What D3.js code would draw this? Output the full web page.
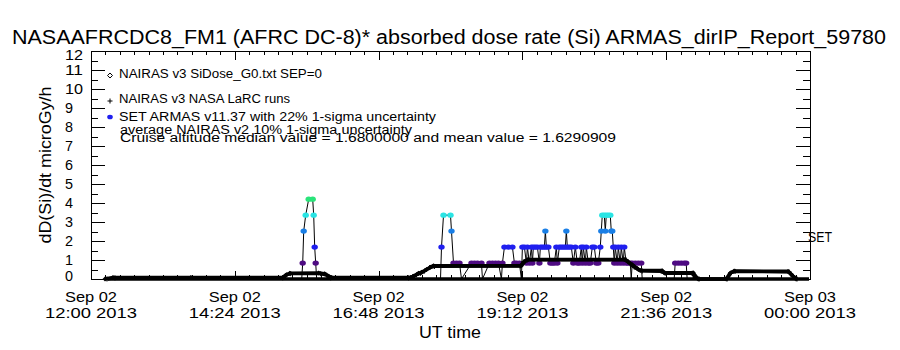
<!DOCTYPE html>
<html><head><meta charset="utf-8">
<script src="https://cdn.jsdelivr.net/npm/d3@7"></script>
<style>
body{margin:0;background:#fff;}
svg{display:block;font-family:"Liberation Sans",Arial,sans-serif;}
</style></head><body>
<svg id="chart" width="900" height="350"></svg>
<script>
// ---------- text ----------
const TITLE = "NASAAFRCDC8_FM1 (AFRC DC-8)* absorbed dose rate (Si) ARMAS_dirIP_Report_59780";
const Y_LABEL = "dD(Si)/dt microGy/h";
const X_LABEL = "UT time";
const SIDE_LABEL = "SET";
const LEGEND_LABELS = ["NAIRAS v3 SiDose_G0.txt SEP=0", "NAIRAS v3 NASA LaRC runs", "SET ARMAS v11.37 with 22% 1-sigma uncertainty"];
const NOTE_LINES = ["average NAIRAS v2 10% 1-sigma uncertainty", "Cruise altitude median value = 1.6800000 and mean value = 1.6290909"];

// ---------- axes ----------
const START = "2013-09-02T12:00:00Z";
const END = "2013-09-03T00:00:00Z";
const X_TICK_MINUTES = [0, 144, 288, 432, 576, 720];   // minutes after START
const Y_TICKS = [0,1,2,3,4,5,6,7,8,9,10,11,12];

// ---------- data (minutes after 12:00 UT, microGy/h) ----------
const NAIRAS_G0 = [
 [14,0],[22,0.08],[100,0.08],[192,0.08],[195,0.2],[199,0.3],[228,0.31],[234,0.28],[238,0.15],[241,0.08],
 [320,0.08],[323,0.15],[328,0.3],[331,0.35],[336,0.5],[340,0.62],[343,0.7],[431,0.7],[435,0.95],[438,1.03],
 [534,1.03],[538,0.9],[542,0.75],[547,0.55],[550,0.45],[572,0.44],[574,0.33],[603,0.33],[606,0.1],[608,0],
 [636,0],[640,0.3],[644,0.42],[698,0.4],[702,0.2],[706,0]
];
const NAIRAS_LARC = [
 [16,0],[24,0.06],[192,0.06],[196,0.22],[200,0.28],[230,0.28],[236,0.2],[240,0.06],[318,0.06],[322,0.12],
 [326,0.22],[330,0.3],[334,0.42],[339,0.6],[344,0.66],[430,0.68],[433,0.9],[437,1.0],[536,1.0],[540,0.8],
 [544,0.62],[548,0.5],[552,0.42],[571,0.4],[575,0.3],[602,0.3],[605,0.08],[609,0],[637,0],[641,0.33],
 [645,0.4],[699,0.38],[703,0.15],[707,0]
];
const ARMAS = [
 [17,0],[211,0],
 [212,0.84],[213,2.52],[215,3.36],[218,4.2],[222,4.2],[223,3.36],[224,1.68],[225,0.84],[226,0],
 [350,0],[351,1.68],[353,3.36],[360,3.36],[361,2.52],[363,0.84],[366,0.84],[369,0.84],[371,0],
 [381,0.84],[384,0.84],[387,0.84],[391,0.84],[392,0],
 [399,0.84],[402,0.84],[405,0.84],[408,0.84],[411,0],[412,0.84],[414,1.68],[418,1.68],[422,1.68],[424,0.84],
 [426,0.84],[429,0.84],[431,0],
 [432,1.68],[434,1.68],[436,0.84],[437,1.68],[439,0.84],[441,1.68],[442,0.84],[443,1.68],[445,1.68],[447,1.68],
 [449,0.84],[450,1.68],[452,1.68],[454,1.68],[455,2.52],[456,1.68],[458,1.68],[460,0.84],[462,0.84],[464,0.84],
 [466,1.68],[467,0.84],[469,1.68],[471,1.68],[473,1.68],[475,1.68],[476,2.52],[477,1.68],[479,1.68],[481,1.68],
 [483,0.84],[485,1.68],[487,0.84],[489,0.84],[491,1.68],[492,0.84],[493,1.68],[495,0.84],[496,1.68],[498,0.84],
 [500,0.84],[502,1.68],[504,1.68],[506,0.84],[508,0.84],[510,1.68],[511,2.52],[512,3.36],[514,3.36],[515,2.52],
 [516,3.36],[518,3.36],[520,3.36],[521,2.52],[522,2.52],[523,1.68],[524,0.84],[525,1.68],[527,0.84],[528,1.68],
 [530,0.84],[531,1.68],[533,0.84],[534,1.68],[536,0.84],[538,0.84],[540,0.84],[541,0],[542,0.84],[545,0.84],
 [548,0.84],[551,0.84],[552,0],
 [584,0],[585,0.84],[588,0.84],[591,0.84],[594,0.84],[596,0.84],[597,0],[719,0]
];
const ARMAS_LEVELS = [0, 0.84, 1.68, 2.52, 3.36, 4.2];
const ARMAS_COLORS = ["#000000", "#4e0b82", "#1f1fef", "#1a7fe6", "#2ae4e4", "#2ae47a"];

// ---------- drawing ----------
const svg = d3.select("#chart");
const t0 = new Date(START);
const toDate = m => new Date(t0.getTime() + m * 60000);
const x = d3.scaleUtc().domain([new Date(START), new Date(END)]).range([91, 810]);
const y = d3.scaleLinear().domain([0, 12]).range([279, 51]);
const color = d3.scaleOrdinal().domain(ARMAS_LEVELS).range(ARMAS_COLORS);
const X0 = x.range()[0], X1 = x.range()[1], Y0 = y.range()[0], Y1 = y.range()[1];

// title
svg.append("text").attr("x", 449).attr("y", 44).attr("text-anchor", "middle")
  .attr("font-size", 20).attr("textLength", 874).attr("lengthAdjust", "spacingAndGlyphs").text(TITLE);

// frame
svg.append("rect").attr("x", X0 + 0.5).attr("y", Y1 + 0.5).attr("width", X1 - X0).attr("height", Y0 - Y1)
  .attr("fill", "none").attr("stroke", "#000").attr("shape-rendering", "crispEdges");

const majorDates = X_TICK_MINUTES.map(toDate);
const minorDates = d3.range(0, 721, 14.4).map(toDate);
const halfTicks = Y_TICKS.slice(0, -1).map(v => v + 0.5);

function clean(g) { g.select(".domain").remove(); g.selectAll("text").remove();
  g.selectAll("line").attr("stroke", "#000").attr("shape-rendering", "crispEdges"); }

svg.append("g").attr("transform", `translate(0,${Y0})`).call(d3.axisBottom(x).tickValues(majorDates).tickSize(-8.5).tickSizeOuter(0)).call(clean);
svg.append("g").attr("transform", `translate(0,${Y0})`).call(d3.axisBottom(x).tickValues(minorDates).tickSize(-4.3).tickSizeOuter(0)).call(clean);
svg.append("g").attr("transform", `translate(0,${Y1})`).call(d3.axisTop(x).tickValues(majorDates).tickSize(-8.5).tickSizeOuter(0)).call(clean);
svg.append("g").attr("transform", `translate(0,${Y1})`).call(d3.axisTop(x).tickValues(minorDates).tickSize(-4.3).tickSizeOuter(0)).call(clean);
svg.append("g").attr("transform", `translate(${X0},0)`).call(d3.axisLeft(y).tickValues(Y_TICKS).tickSize(-14).tickSizeOuter(0)).call(clean);
svg.append("g").attr("transform", `translate(${X0},0)`).call(d3.axisLeft(y).tickValues(halfTicks).tickSize(-7).tickSizeOuter(0)).call(clean);
svg.append("g").attr("transform", `translate(${X1},0)`).call(d3.axisRight(y).tickValues(Y_TICKS).tickSize(-14).tickSizeOuter(0)).call(clean);
svg.append("g").attr("transform", `translate(${X1},0)`).call(d3.axisRight(y).tickValues(halfTicks).tickSize(-7).tickSizeOuter(0)).call(clean);

// y tick labels (left aligned like IDL output)
svg.append("g").selectAll("text").data(Y_TICKS).join("text")
  .attr("x", 65)
  .attr("y", d => y(d) + 5 + (d === 0 ? -3.5 : 0) + (d === 12 ? 3.5 : 0))
  .attr("font-size", 14)
  .attr("textLength", d => String(d).length * 10 - 2).attr("lengthAdjust", "spacingAndGlyphs")
  .text(d => d);

// x tick labels
const fmtDay = d3.utcFormat("%b %d"), fmtTime = d3.utcFormat("%H:%M %Y");
const xl = svg.append("g").selectAll("g").data(majorDates).join("g");
xl.append("text").attr("x", d => x(d)).attr("y", 302).attr("text-anchor", "middle").attr("font-size", 15)
  .attr("textLength", 52).attr("lengthAdjust", "spacingAndGlyphs").text(d => fmtDay(d));
xl.append("text").attr("x", d => x(d)).attr("y", 318).attr("text-anchor", "middle").attr("font-size", 15)
  .attr("textLength", 92).attr("lengthAdjust", "spacingAndGlyphs").text(d => fmtTime(d));

svg.append("text").attr("x", 450).attr("y", 338).attr("text-anchor", "middle").attr("font-size", 16)
  .attr("textLength", 62).attr("lengthAdjust", "spacingAndGlyphs").text(X_LABEL);

svg.append("text").attr("transform", "translate(51,165) rotate(-90)").attr("text-anchor", "middle")
  .attr("font-size", 16).attr("textLength", 157).attr("lengthAdjust", "spacingAndGlyphs").text(Y_LABEL);

svg.append("text").attr("x", 808).attr("y", 242).attr("font-size", 14)
  .attr("textLength", 24).attr("lengthAdjust", "spacingAndGlyphs").text(SIDE_LABEL);

// ---------- data marks ----------
const pts = arr => arr.map(([m, v]) => ({ t: toDate(m), v }));
const armas = pts(ARMAS), g0 = pts(NAIRAS_G0), larc = pts(NAIRAS_LARC);
const line = d3.line().x(d => x(d.t)).y(d => y(d.v));

// dense zero-level ARMAS markers (merge into a thick baseline)
svg.append("line").attr("x1", x(armas[0].t)).attr("x2", x(armas[armas.length - 1].t))
  .attr("y1", y(0)).attr("y2", y(0)).attr("stroke", "#000").attr("stroke-width", 3.5);

svg.append("path").datum(armas).attr("d", line).attr("fill", "none").attr("stroke", "#000").attr("stroke-width", 1);
svg.append("g").selectAll("ellipse").data(armas.filter(d => d.v > 0)).join("ellipse")
  .attr("cx", d => x(d.t)).attr("cy", d => y(d.v)).attr("rx", 3.2).attr("ry", 2.6)
  .attr("fill", d => color(d.v));

svg.append("path").datum(larc).attr("d", line).attr("fill", "none").attr("stroke", "#000")
  .attr("stroke-width", 3.2).attr("stroke-linejoin", "round");
svg.append("path").datum(g0).attr("d", line).attr("fill", "none").attr("stroke", "#000")
  .attr("stroke-width", 3.6).attr("stroke-linejoin", "round");
svg.append("g").selectAll("path").data(g0).join("path")
  .attr("d", d => `M${x(d.t)},${y(d.v) - 2.5}l2.5,2.5l-2.5,2.5l-2.5,-2.5z`).attr("fill", "#000");
svg.append("g").selectAll("path").data(larc).join("path")
  .attr("d", d => `M${x(d.t) - 2.5},${y(d.v)}h5M${x(d.t)},${y(d.v) - 2.5}v5`).attr("stroke", "#000");

// ---------- legend ----------
const LX = 110, TX = 119;
const legendBase = [78, 103, 121];
const legendLen = [203, 171, 317];
svg.append("path").attr("d", `M${LX},${legendBase[0] - 5}l2.5,2.5l-2.5,2.5l-2.5,-2.5z`).attr("fill", "none").attr("stroke", "#000");
svg.append("path").attr("d", `M${LX - 2.5},${legendBase[1] - 2}h5M${LX},${legendBase[1] - 4.5}v5`).attr("stroke", "#000");
svg.append("ellipse").attr("cx", LX).attr("cy", legendBase[2] - 4).attr("rx", 2.8).attr("ry", 2.3).attr("fill", color(1.68));
LEGEND_LABELS.forEach((s, i) => svg.append("text").attr("x", TX).attr("y", legendBase[i]).attr("font-size", 12)
  .attr("textLength", legendLen[i]).attr("lengthAdjust", "spacingAndGlyphs").text(s));
const noteBase = [134, 142], noteLen = [292, 496];
NOTE_LINES.forEach((s, i) => svg.append("text").attr("x", TX + 1).attr("y", noteBase[i]).attr("font-size", 12)
  .attr("textLength", noteLen[i]).attr("lengthAdjust", "spacingAndGlyphs").text(s));
</script>
</body></html>
